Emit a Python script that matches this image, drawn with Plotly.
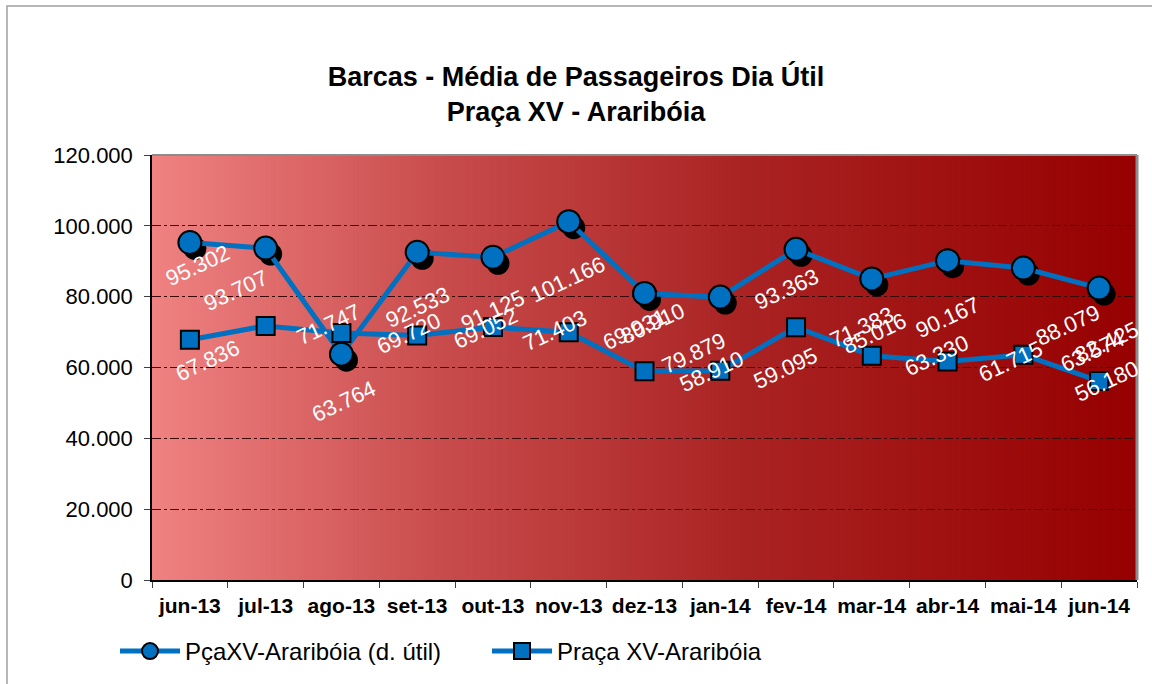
import plotly.graph_objects as go

# ---------------- data ----------------
months = ["jun-13", "jul-13", "ago-13", "set-13", "out-13", "nov-13", "dez-13",
          "jan-14", "fev-14", "mar-14", "abr-14", "mai-14", "jun-14"]
util_values = [95302, 93707, 63764, 92533, 91125, 101166, 80910,
               79879, 93363, 85016, 90167, 88079, 82425]
praca_values = [67836, 71747, 69720, 69052, 71403, 69931, 58910,
                59095, 71383, 63330, 61715, 63574, 56180]
y_ticks = [0, 20000, 40000, 60000, 80000, 100000, 120000]

series_util_name = "PçaXV-Araribóia (d. útil)"
series_praca_name = "Praça XV-Araribóia"
title_text = "Barcas - Média de Passageiros Dia Útil<br>Praça XV - Araribóia"

# ---------------- styling ----------------
W, H = 1152, 684
ML, MR, MT, MB = 152, 15, 155, 104
PW, PH = W - ML - MR, H - MT - MB
FONT = "Liberation Sans, Arial, sans-serif"
BLUE = "#0070C0"
YMAX = 120000

# label nudges in pixels (dx right, dy down) as placed in the original sheet
util_label_nudge = [(8, 23), (-30, 42), (2, 47), (0, 55), (0, 53), (-1, 58), (8, 30),
                    (-27, 56), (-10, 40), (3, 55), (0, 57), (44, 57), (7, 54)]
praca_label_nudge = [(18, 21), (63, -1), (67, 0), (68, -7), (62, 3), (66, -3), (67, 0),
                     (65, -2), (65, 0), (65, 0), (63, 0), (69, -3), (7, 0)]

xs = list(range(len(months)))
x_per_px = len(months) / PW
y_per_px = YMAX / PH
shadow_dx, shadow_dy = 5 * x_per_px, -6 * y_per_px


def fmt(v):
    return f"{v:,}".replace(",", ".")


fig = go.Figure()

# shadow of circle markers
fig.add_trace(go.Scatter(
    x=[x + shadow_dx for x in xs], y=[v + shadow_dy for v in util_values],
    mode="markers", marker=dict(symbol="circle", size=23, color="black", line=dict(width=0)),
    showlegend=False, hoverinfo="skip"))

fig.add_trace(go.Scatter(
    x=xs, y=util_values, name=series_util_name, mode="lines+markers",
    line=dict(color=BLUE, width=5),
    marker=dict(symbol="circle", size=23, color=BLUE, line=dict(color="black", width=2))))

fig.add_trace(go.Scatter(
    x=xs, y=praca_values, name=series_praca_name, mode="lines+markers",
    line=dict(color=BLUE, width=5),
    marker=dict(symbol="square", size=18, color=BLUE, line=dict(color="black", width=2))))

annotations = []
for vals, nudges in ((util_values, util_label_nudge), (praca_values, praca_label_nudge)):
    for x, v, (dx, dy) in zip(xs, vals, nudges):
        annotations.append(dict(
            x=x, y=v, xref="x", yref="y", text=fmt(v), showarrow=False,
            xanchor="center", yanchor="middle", xshift=dx, yshift=-dy,
            textangle=-25, font=dict(family=FONT, size=22, color="white")))

# gradient plot background
stops = [(0.0, (240, 130, 130)), (0.3, (200, 75, 75)), (0.6, (170, 35, 35)), (1.0, (150, 0, 0))]


def grad(t):
    for (t0, c0), (t1, c1) in zip(stops[:-1], stops[1:]):
        if t <= t1:
            f = (t - t0) / (t1 - t0)
            return tuple(round(a + (b - a) * f) for a, b in zip(c0, c1))
    return stops[-1][1]


shapes = []
N = 240
for i in range(N):
    c = grad((i + 0.5) / N)
    shapes.append(dict(type="rect", xref="paper", yref="paper", x0=i / N, x1=(i + 1.6) / N if i < N - 1 else 1,
                       y0=0, y1=1, layer="below", line=dict(width=0),
                       fillcolor=f"rgb({c[0]},{c[1]},{c[2]})"))
# plot area border (top/right grey)
shapes.append(dict(type="line", xref="paper", yref="paper", x0=0, x1=1, y0=1, y1=1,
                   line=dict(color="#8c8c8c", width=2), layer="above"))
shapes.append(dict(type="line", xref="paper", yref="paper", x0=1, x1=1, y0=0, y1=1,
                   line=dict(color="#8c8c8c", width=3), layer="above"))
# chart outer frame
shapes.append(dict(type="rect", xref="paper", yref="paper",
                   x0=(7 - ML) / PW, x1=(W + 20 - ML) / PW,
                   y0=(H - MB - (H + 20)) / PH, y1=(H - MB - 6) / PH,
                   line=dict(color="#a0a0a0", width=1.5), fillcolor="rgba(0,0,0,0)", layer="below"))

fig.update_layout(
    width=W, height=H,
    margin=dict(l=ML, r=MR, t=MT, b=MB, autoexpand=False),
    paper_bgcolor="white", plot_bgcolor="#960000",
    separators=",.",
    font=dict(family=FONT, size=22, color="black"),
    title=dict(text=title_text, x=0.5, xref="container", xanchor="center",
               y=1 - 86 / H, yref="container", yanchor="top",
               font=dict(family=FONT, size=27, color="black", weight="bold")),
    showlegend=True,
    legend=dict(orientation="h", x=(115 - ML) / PW, xanchor="left",
                y=(H - MB - 629) / PH, yanchor="top",
                font=dict(family=FONT, size=24, color="black"),
                bgcolor="rgba(0,0,0,0)", entrywidth=297, itemwidth=60),
    shapes=shapes,
    annotations=annotations,
)

fig.update_xaxes(
    range=[-0.5, len(months) - 0.5], tickmode="array", tickvals=xs, ticktext=months,
    showgrid=False, zeroline=False, automargin=False,
    showline=True, linecolor="black", linewidth=1.5,
    ticks="outside", ticklen=8, tickcolor="rgba(0,0,0,0)", ticklabelstandoff=-2,
    tickfont=dict(family=FONT, size=21, color="black", weight="bold"),
    minor=dict(tickmode="array", tickvals=[x - 0.5 for x in xs] + [len(months) - 0.5],
               ticks="outside", ticklen=6, tickcolor="#404040", showgrid=False),
)
fig.update_yaxes(
    range=[0, YMAX], tickmode="array", tickvals=y_ticks, tickformat=",d",
    showgrid=True, gridcolor="#3a0a0a", gridwidth=1, griddash="dashdot", automargin=False,
    zeroline=False, showline=True, linecolor="black", linewidth=1.5,
    ticks="outside", ticklen=6, tickcolor="#404040", ticklabelstandoff=7,
    tickfont=dict(family=FONT, size=22, color="black"),
)

fig.write_html("out.html", config={"displayModeBar": False},
               post_script="document.body.style.margin='0';")
